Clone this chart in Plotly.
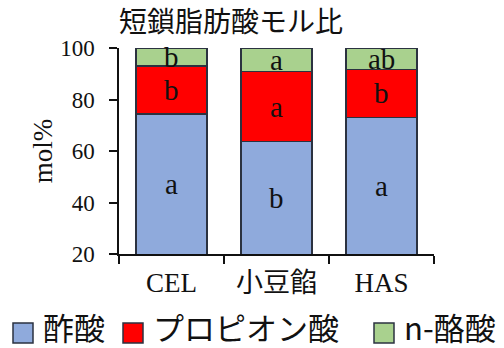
import plotly.graph_objects as go

# Short-chain fatty acid molar ratio (mol%) per diet group
groups = ["CEL", "小豆餡", "HAS"]
acetate = [74.4, 63.6, 73.1]
propionate = [18.6, 27.2, 18.6]
butyrate = [7.0, 9.2, 8.3]

# Significance letters per segment
acetate_sig = ["a", "b", "a"]
propionate_sig = ["b", "a", "b"]
butyrate_sig = ["b", "a", "ab"]

series = [
    ("酢酸", acetate, acetate_sig, "#8faadc"),
    ("プロピオン酸", propionate, propionate_sig, "#ff0000"),
    ("n-酪酸", butyrate, butyrate_sig, "#a9d18e"),
]

y_min, y_max = 20, 100
serif = "Liberation Serif, Noto Sans CJK JP, serif"
cjk = "Noto Sans CJK JP, sans-serif"
edge = "#2b3240"
ink = "#111111"

W, H = 504, 348
M_L, M_R, M_T, M_B = 119, 70, 48, 94
PW, PH = W - M_L - M_R, H - M_T - M_B


def px_x(px):
    return (px - M_L) / PW


def px_y(py):
    return (H - M_B - py) / PH


fig = go.Figure()
annotations = []
shapes = []
base = [0.0] * len(groups)
for name, vals, sig, color in series:
    fig.add_trace(go.Bar(
        x=groups, y=vals, name=name, showlegend=False,
        marker=dict(color=color, line=dict(color=edge, width=1.5)),
    ))
    for i, g in enumerate(groups):
        lo = max(base[i], y_min)
        hi = base[i] + vals[i]
        annotations.append(dict(
            x=g, y=(lo + hi) / 2, xref="x", yref="y", text=sig[i],
            showarrow=False, font=dict(family=serif, size=29, color=ink),
        ))
        base[i] = hi

# Legend row below the axis: swatch followed by its label
legend_swatch_left = [13, 123, 374]
swatch = 20
legend_cy = 326
for (name, _, _, color), sx in zip(series, legend_swatch_left):
    shapes.append(dict(
        type="rect", xref="paper", yref="paper",
        x0=px_x(sx), x1=px_x(sx + swatch),
        y0=px_y(legend_cy + 7 + swatch / 2), y1=px_y(legend_cy + 7 - swatch / 2),
        fillcolor=color, line=dict(color=edge, width=1.5),
    ))
    annotations.append(dict(
        x=px_x(sx + swatch + 8), y=px_y(legend_cy), xref="paper", yref="paper",
        xanchor="left", yanchor="middle", text=name, showarrow=False,
        font=dict(family=cjk, size=31, color=ink),
    ))

fig.update_layout(
    width=W, height=H,
    barmode="stack", bargap=0.324,
    paper_bgcolor="white", plot_bgcolor="white",
    margin=dict(l=M_L, r=M_R, t=M_T, b=M_B, autoexpand=False),
    showlegend=False,
    title=dict(text="短鎖脂肪酸モル比", x=231 / W, xanchor="center",
               y=1 - 22 / H, yanchor="middle",
               font=dict(family=cjk, size=28, color=ink)),
    annotations=annotations,
    shapes=shapes,
    xaxis=dict(
        type="category", tickson="boundaries", ticks="outside", ticklen=8,
        tickwidth=1.5, tickcolor=ink, showline=True, linecolor=ink,
        linewidth=1.5, showgrid=False, ticklabelstandoff=4,
        tickfont=dict(family=serif, size=27, color=ink),
    ),
    yaxis=dict(
        range=[y_min, y_max], dtick=20, ticks="outside", ticklen=8,
        tickwidth=1.5, tickcolor=ink, showline=True, linecolor=ink,
        linewidth=1.5, showgrid=False, zeroline=False, ticklabelstandoff=10,
        tickfont=dict(family=serif, size=23, color=ink),
        title=dict(text="mol%", font=dict(family=serif, size=27, color=ink),
                   standoff=0),
    ),
)

fig.write_html("out.html")
